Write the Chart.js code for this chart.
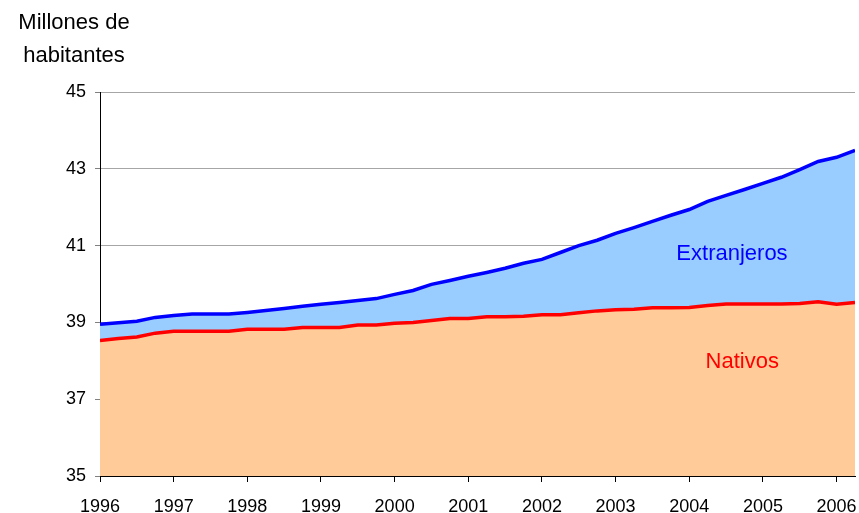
<!DOCTYPE html>
<html>
<head>
<meta charset="utf-8">
<script src="https://cdn.jsdelivr.net/npm/chart.js@4/dist/chart.umd.min.js"></script>
<style>
  html, body { margin: 0; padding: 0; background: #fff; }
  #wrap { width: 859px; height: 513px; }
</style>
</head>
<body>
<div id="wrap"><canvas id="poblacion"></canvas></div>
<script>
// trimestres 1996T1 .. 2006T2
const trimestres = [
  1996, 1996.25, 1996.5, 1996.75, 1997, 1997.25, 1997.5, 1997.75,
  1998, 1998.25, 1998.5, 1998.75, 1999, 1999.25, 1999.5, 1999.75,
  2000, 2000.25, 2000.5, 2000.75, 2001, 2001.25, 2001.5, 2001.75,
  2002, 2002.25, 2002.5, 2002.75, 2003, 2003.25, 2003.5, 2003.75,
  2004, 2004.25, 2004.5, 2004.75, 2005, 2005.25, 2005.5, 2005.75,
  2006, 2006.25
];

// millones de habitantes nativos
const nativos = [
  38.53, 38.58, 38.62, 38.72, 38.77, 38.77, 38.77, 38.77,
  38.82, 38.82, 38.82, 38.87, 38.87, 38.87, 38.93, 38.93,
  38.98, 39.00, 39.05, 39.10, 39.10, 39.15, 39.15, 39.16,
  39.20, 39.20, 39.25, 39.30, 39.33, 39.34, 39.38, 39.38,
  39.39, 39.44, 39.48, 39.48, 39.48, 39.48, 39.49, 39.54,
  39.47, 39.52
];

// poblacion total (nativos + extranjeros)
const total = [
  38.95, 38.99, 39.03, 39.13, 39.18, 39.22, 39.22, 39.22,
  39.26, 39.31, 39.36, 39.42, 39.47, 39.52, 39.57, 39.62,
  39.73, 39.83, 39.99, 40.09, 40.20, 40.30, 40.41, 40.54,
  40.64, 40.82, 41.00, 41.14, 41.32, 41.47, 41.63, 41.79,
  41.94, 42.15, 42.31, 42.46, 42.62, 42.78, 42.98, 43.19,
  43.30, 43.48
];

const anios = [1996, 1997, 1998, 1999, 2000, 2001, 2002, 2003, 2004, 2005, 2006];
const yTicks = [35, 37, 39, 41, 43, 45];
const tituloEje = ['Millones de', 'habitantes'];
const etiquetas = [
  { text: 'Extranjeros', x: 2004.58, y: 40.77, color: '#0000ff' },
  { text: 'Nativos', x: 2004.72, y: 37.98, color: '#ff0000' }
];

const FONT = '"Liberation Sans", Arial, sans-serif';

const textos = {
  id: 'textos',
  afterDraw(chart) {
    const ctx = chart.ctx;
    const { x, y } = chart.scales;
    ctx.save();
    ctx.textAlign = 'center';
    ctx.textBaseline = 'middle';
    ctx.font = '22px ' + FONT;
    etiquetas.forEach(e => {
      ctx.fillStyle = e.color;
      ctx.fillText(e.text, x.getPixelForValue(e.x), y.getPixelForValue(e.y));
    });
    ctx.fillStyle = '#000';
    ctx.textBaseline = 'alphabetic';
    ctx.font = '22px ' + FONT;
    ctx.fillText(tituloEje[0], 74, 29);
    ctx.fillText(tituloEje[1], 74, 62);
    ctx.restore();
  }
};

const pts = arr => trimestres.map((t, i) => ({ x: t, y: arr[i] }));

new Chart(document.getElementById('poblacion'), {
  type: 'line',
  data: {
    datasets: [
      {
        label: 'Nativos',
        data: pts(nativos),
        borderColor: '#ff0000',
        backgroundColor: '#ffcc99',
        borderWidth: 3.5,
        pointRadius: 0,
        tension: 0,
        fill: 'start'
      },
      {
        label: 'Extranjeros',
        data: pts(total),
        borderColor: '#0000ff',
        backgroundColor: '#99ccff',
        borderWidth: 3.5,
        pointRadius: 0,
        tension: 0,
        fill: '-1'
      }
    ]
  },
  options: {
    responsive: true,
    maintainAspectRatio: false,
    animation: false,
    layout: { padding: { top: 92, right: 4, left: 0, bottom: 0 } },
    plugins: {
      legend: { display: false },
      tooltip: { enabled: false }
    },
    scales: {
      x: {
        type: 'linear',
        min: 1996,
        max: 2006.25,
        afterBuildTicks: axis => {
          axis.ticks = anios.map(v => ({ value: v }));
        },
        afterFit: axis => {
          axis.height = 37;
          axis.paddingRight = 0;
          axis.paddingLeft = 0;
        },
        ticks: {
          autoSkip: false,
          maxRotation: 0,
          padding: 14,
          color: '#000',
          font: { family: FONT, size: 18 },
          callback: v => String(v)
        },
        grid: {
          drawOnChartArea: false,
          drawTicks: true,
          tickLength: 6,
          tickColor: '#000'
        },
        border: { color: '#000', width: 1 }
      },
      y: {
        min: 35,
        max: 45,
        afterBuildTicks: axis => {
          axis.ticks = yTicks.map(v => ({ value: v }));
        },
        afterFit: axis => { axis.width = 100; },
        ticks: {
          padding: 9,
          color: '#000',
          font: { family: FONT, size: 18 }
        },
        grid: {
          color: '#a6a6a6',
          lineWidth: 1,
          tickLength: 5,
          tickColor: '#808080'
        },
        border: { color: '#000', width: 1 }
      }
    }
  },
  plugins: [textos]
});
</script>
</body>
</html>
